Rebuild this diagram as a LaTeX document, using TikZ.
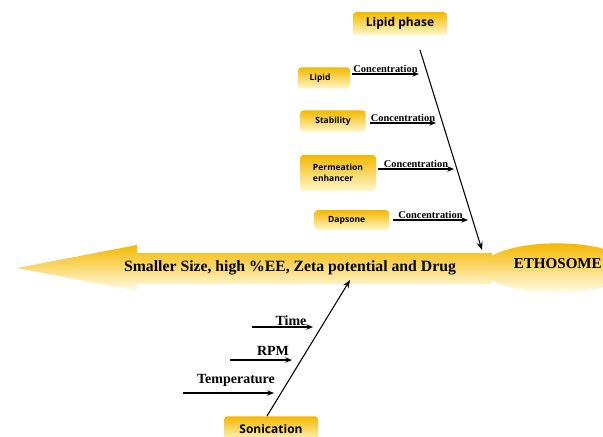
\documentclass[tikz,border=0pt]{standalone}
\usepackage{fontspec}
\setmainfont{Liberation Serif}
\newfontfamily\boxfont{Open Sans}
\usetikzlibrary{arrows.meta,shapes.geometric}
\definecolor{gold}{HTML}{F5B800}
\definecolor{yel}{HTML}{FFE81C}
\definecolor{pale}{HTML}{FFF8CC}
\tikzset{
  goldbox/.style={rectangle, rounded corners=2.5pt, top color=gold, middle color=yel, bottom color=pale,
    font=\boxfont\bfseries, inner sep=0pt, align=left},
  branch/.style={-{Stealth[length=5pt,width=4pt]}, line width=0.8pt, black},
  bone/.style={-{Stealth[length=6pt,width=4.5pt]}, line width=0.8pt, black},
  conc/.style={font=\fontsize{7.8}{8}\selectfont\bfseries, inner sep=1pt},
  factor/.style={font=\fontsize{10.5}{12}\selectfont\bfseries, inner sep=1pt},
}
\begin{document}
\begin{tikzpicture}[x=0.75pt,y=-0.75pt]
\useasboundingbox (0,0) rectangle (603,436);
\clip (0,0) rectangle (603,436);

% main arrow
\path[top color=gold, middle color=yel, bottom color=pale!40!white]
  (17,268) -- (137,245) -- (137,253) -- (492,253) -- (492,284) -- (137,284) -- (137,291) -- cycle;
\node[font=\fontsize{11.8}{13}\selectfont\bfseries] (result) at (290,268) {Smaller Size, high \%EE, Zeta potential and Drug};

% head ellipse
\node[ellipse, minimum width=112pt, minimum height=37pt, inner sep=0pt,
  top color=gold, middle color=yel, bottom color=pale!40!white] (eth) at (557,268) {};
\node[font=\fontsize{11.3}{14}\selectfont\bfseries, anchor=east, inner sep=0pt] (ethtxt) at (602,264) {ETHOSOME};

% lipid phase bone
\node[goldbox, minimum width=70.5pt, minimum height=17pt, font=\fontsize{9}{10}\selectfont\boxfont\bfseries, align=center] (lp) at (400,23.5) {Lipid phase};
\coordinate (lpA) at (420,50);
\coordinate (lpB) at (482,250);
\draw[bone] (lpA) -- (lpB);

\node[goldbox, minimum width=39pt, minimum height=16pt, font=\fontsize{6.4}{7}\selectfont\boxfont\bfseries] (lipid) at (324,78) {\hspace*{-6pt}Lipid};
\node[goldbox, minimum width=49pt, minimum height=16pt, font=\fontsize{6.4}{7}\selectfont\boxfont\bfseries] (stab) at (333,121) {Stability};
\node[goldbox, minimum width=57pt, minimum height=27pt, font=\fontsize{6.4}{8}\selectfont\boxfont\bfseries] (perm) at (338,173) {Permeation\\enhancer};
\node[goldbox, minimum width=56pt, minimum height=15pt, font=\fontsize{6.4}{7}\selectfont\boxfont\bfseries] (daps) at (352,220) {\hspace*{-8pt}Dapsone};

\coordinate (c1a) at (352,74);  \coordinate (c1b) at (419,74);
\coordinate (c2a) at (370,123); \coordinate (c2b) at (436,123);
\coordinate (c3a) at (378,169); \coordinate (c3b) at (454,169);
\coordinate (c4a) at (393,220); \coordinate (c4b) at (468,220);
\draw[branch] (c1a) -- node[conc, above, pos=0.5] (t1) {Concentration} (c1b);
\draw[branch] (c2a) -- node[conc, above, pos=0.5] (t2) {Concentration} (c2b);
\draw[branch] (c3a) -- node[conc, above, pos=0.5] (t3) {Concentration} (c3b);
\draw[branch] (c4a) -- node[conc, above, pos=0.5] (t4) {Concentration} (c4b);

% sonication bone
\node[goldbox, minimum width=70.5pt, minimum height=19pt, font=\fontsize{9}{10}\selectfont\boxfont\bfseries, align=center] (son) at (271,429) {Sonication};
\coordinate (snA) at (267,416);
\coordinate (snB) at (350,280);
\draw[bone] (snA) -- (snB);

\coordinate (f1a) at (252,327); \coordinate (f1b) at (313,327);
\coordinate (f2a) at (230,360); \coordinate (f2b) at (292,360);
\coordinate (f3a) at (183,393); \coordinate (f3b) at (274,393);
\draw[branch] (f1a) -- (f1b);
\draw[branch] (f2a) -- (f2b);
\draw[branch] (f3a) -- (f3b);
\node[factor] (time) at (291,321) {Time};
\node[factor] (rpm) at (273,351) {RPM};
\node[factor] (temp) at (236,380) {Temperature};
\end{tikzpicture}
\end{document}
